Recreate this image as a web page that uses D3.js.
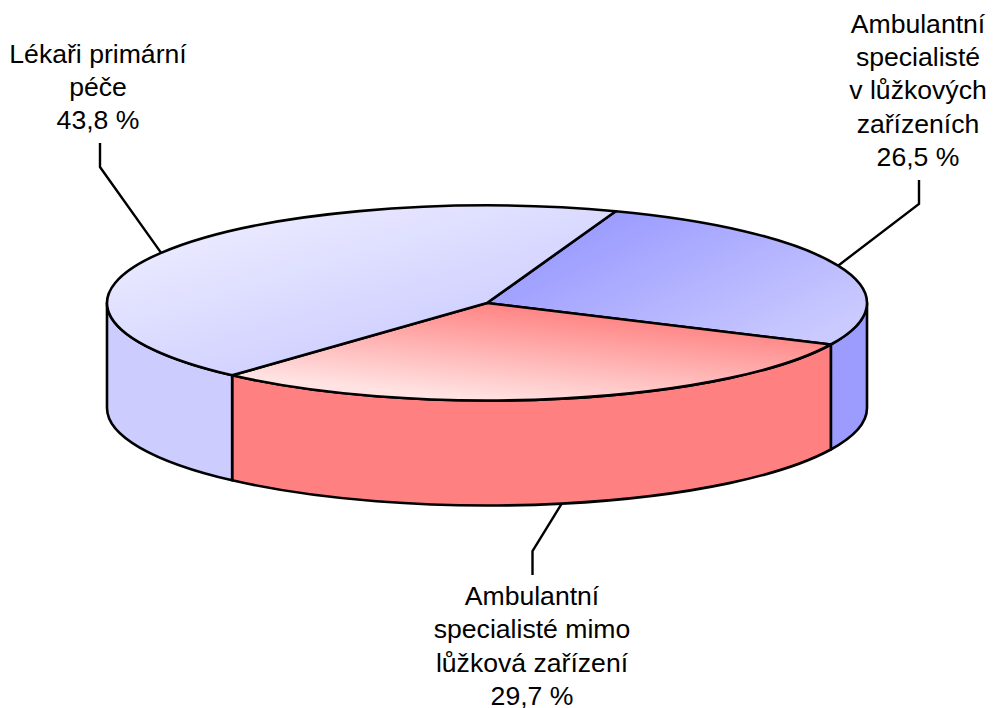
<!DOCTYPE html>
<html>
<head>
<meta charset="utf-8">
<script src="https://d3js.org/d3.v7.min.js"></script>
<style>
  html, body { margin: 0; padding: 0; background: #fff; }
  text { font-family: "Liberation Sans", Arial, sans-serif; font-size: 26.6px; fill: #000; }
</style>
</head>
<body>
<svg id="chart" width="994" height="708" style="display:block"></svg>
<script>
const categories = ['Ambulantní specialisté v lůžkových zařízeních', 'Ambulantní specialisté mimo lůžková zařízení', 'Lékaři primární péče'];
const values = [26.5, 29.7, 43.8];
const labelLines = [
  ['Ambulantní', 'specialisté', 'v lůžkových', 'zařízeních', '26,5 %'],
  ['Ambulantní', 'specialisté mimo', 'lůžková zařízení', '29,7 %'],
  ['Lékaři primární', 'péče', '43,8 %']
];

const CX = 487, CY = 303, RX = 380, RY = 97.5, DEPTH = 105;
const START = 19.8 * Math.PI / 180;
const WALL_FILLS = ['#9c9cff', '#ff8080', '#ccccff'];
const STROKE_W = 2.6;

const svg = d3.select('#chart');
const slices = d3.pie().sort(null).startAngle(START).endAngle(START + 2 * Math.PI)(values);

// angle runs clockwise from north, same as d3.pie
const px = (a) => CX + RX * Math.sin(a);
const py = (a, dz = 0) => CY - RY * Math.cos(a) + dz;

const defs = svg.append('defs');
const gradients = [
  { x1: 600, y1: 220, x2: 690, y2: 399, from: '#9c9cff', to: '#cacaff' },
  { x1: 500, y1: 300, x2: 490, y2: 400, from: '#ff8080', to: '#ffe2e2' },
  { x1: 300, y1: 212, x2: 356, y2: 404, from: '#e8e8ff', to: '#c9c9ff' }
];
gradients.forEach((g, i) => {
  const grad = defs.append('linearGradient')
    .attr('id', 'top' + i)
    .attr('gradientUnits', 'userSpaceOnUse')
    .attr('x1', g.x1).attr('y1', g.y1)
    .attr('x2', g.x2).attr('y2', g.y2);
  grad.append('stop').attr('offset', 0).attr('stop-color', g.from);
  grad.append('stop').attr('offset', 1).attr('stop-color', g.to);
});

function topPath(d) {
  const large = d.endAngle - d.startAngle > Math.PI ? 1 : 0;
  return `M${CX},${CY}L${px(d.startAngle)},${py(d.startAngle)}` +
    `A${RX},${RY} 0 ${large} 1 ${px(d.endAngle)},${py(d.endAngle)}Z`;
}

function wallPath(a0, a1) {
  return `M${px(a0)},${py(a0)}A${RX},${RY} 0 0 1 ${px(a1)},${py(a1)}` +
    `L${px(a1)},${py(a1, DEPTH)}A${RX},${RY} 0 0 0 ${px(a0)},${py(a0, DEPTH)}Z`;
}

// only the front half of the rim is visible
slices.forEach((d, i) => {
  const a0 = Math.max(d.startAngle, Math.PI / 2);
  const a1 = Math.min(d.endAngle, 3 * Math.PI / 2);
  if (a0 >= a1) return;
  svg.append('path')
    .attr('d', wallPath(a0, a1))
    .attr('fill', WALL_FILLS[i])
    .attr('stroke', '#000')
    .attr('stroke-width', STROKE_W)
    .attr('stroke-linejoin', 'round');
});

svg.selectAll('path.top')
  .data(slices)
  .join('path')
  .attr('class', 'top')
  .attr('d', topPath)
  .attr('fill', (d, i) => `url(#top${i})`)
  .attr('stroke', '#000')
  .attr('stroke-width', STROKE_W)
  .attr('stroke-linejoin', 'round');

// leader offsets and label placement
const leaders = [
  { dz: 0, elbow: [919, 204], end: [919, 180], labelX: 918, firstBase: 32.5 },
  { dz: DEPTH, elbow: [532.5, 551], end: [532.5, 575], labelX: 532, firstBase: 605 },
  { dz: 0, elbow: [100, 167], end: [100, 143], labelX: 98, firstBase: 62.5 }
];
const LINE_H = 33.4;

slices.forEach((d, i) => {
  const mid = (d.startAngle + d.endAngle) / 2;
  const l = leaders[i];
  svg.append('path')
    .attr('d', d3.line()([[px(mid), py(mid, l.dz)], l.elbow, l.end]))
    .attr('fill', 'none')
    .attr('stroke', '#000')
    .attr('stroke-width', 2.4);

  svg.append('text')
    .attr('text-anchor', 'middle')
    .attr('aria-label', categories[i])
    .selectAll('tspan')
    .data(labelLines[i])
    .join('tspan')
    .attr('x', l.labelX)
    .attr('y', (t, j) => l.firstBase + j * LINE_H)
    .text(t => t);
});
</script>
</body>
</html>
